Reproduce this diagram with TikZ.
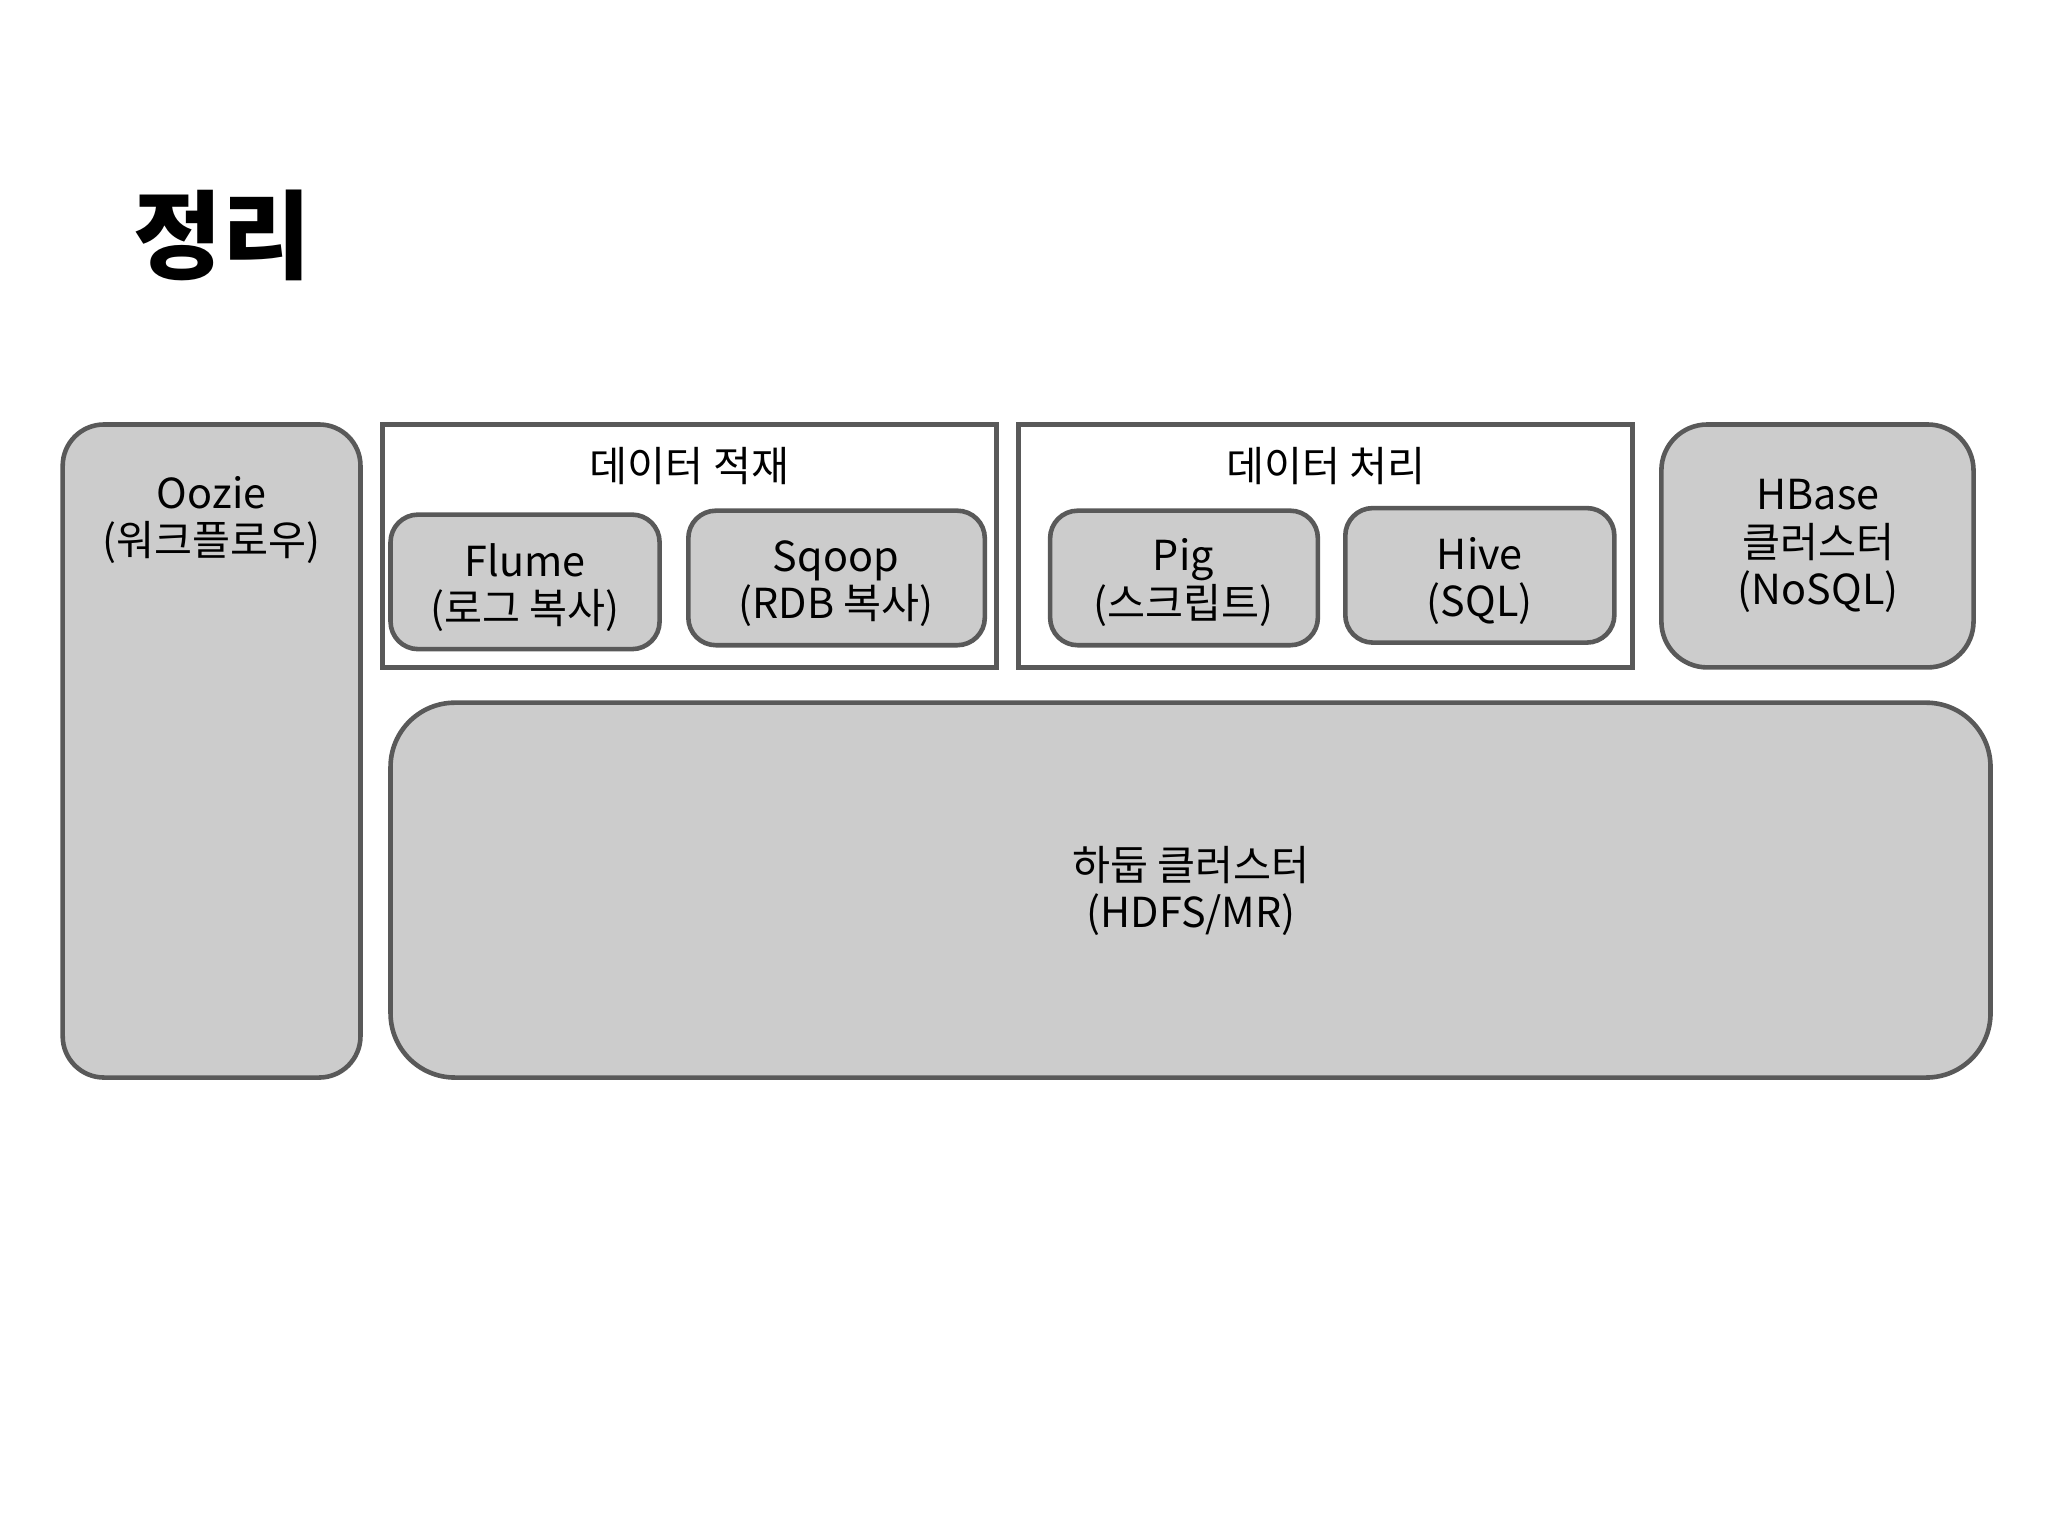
\documentclass[tikz,border=0pt]{standalone}
\usepackage{fontspec}
\setmainfont{Noto Sans CJK KR}
\begin{document}
\begin{tikzpicture}[x=0.01cm,y=-0.01cm,
  gbox/.style={draw=black!65,fill=black!20,line width=1pt,rounded corners=#1},
  gbox/.default=8pt,
  frame/.style={draw=black!65,line width=1pt},
  lbl/.style={align=center,font=\fontsize{9}{10.3}\selectfont}]
\useasboundingbox (0,0) rectangle (1568,1176);
\node[font=\fontsize{21}{24}\selectfont\bfseries] (title) at (170,180) {정리};
\draw[gbox=9pt] (48,325) rectangle (276,825);
\node[lbl,anchor=north] (oozie) at (162,352) {Oozie\\(워크플로우)};
\draw[frame] (293,325) rectangle (763,511);
\node[lbl] (load) at (528,357) {데이터 적재};
\draw[gbox=6pt] (299,394) rectangle (505,497);
\node[lbl] (flume) at (402,450) {Flume\\(로그 복사)};
\draw[gbox=6pt] (527,391) rectangle (754,494);
\node[lbl] (sqoop) at (640,447) {Sqoop\\(RDB 복사)};
\draw[frame] (780,325) rectangle (1250,511);
\node[lbl] (proc) at (1015,357) {데이터 처리};
\draw[gbox=6pt] (804,391) rectangle (1009,494);
\node[lbl] (pig) at (906,446) {Pig\\(스크립트)};
\draw[gbox=6pt] (1030,389) rectangle (1236,492);
\node[lbl] (hive) at (1133,445) {Hive\\(SQL)};
\draw[gbox=10pt] (1272,325) rectangle (1511,511);
\node[lbl] (hbase) at (1392,418) {HBase\\클러스터\\(NoSQL)};
\draw[gbox=14pt] (299,538) rectangle (1524,825);
\node[lbl] (hdfs) at (912,682) {하둡 클러스터\\(HDFS/MR)};
\end{tikzpicture}
\end{document}
